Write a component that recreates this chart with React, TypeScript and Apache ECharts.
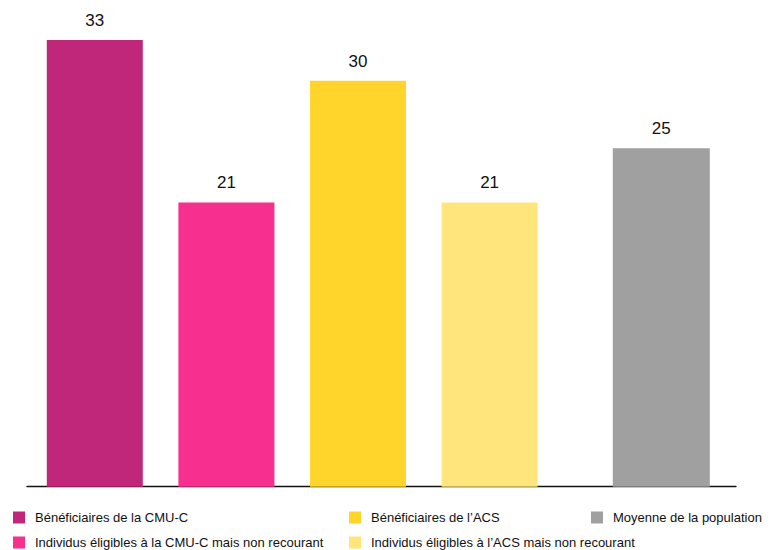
import React, { useEffect, useRef } from "react";
import * as echarts from "echarts";

const seriesNames = [
  "Bénéficiaires de la CMU-C",
  "Individus éligibles à la CMU-C mais non recourant",
  "Bénéficiaires de l’ACS",
  "Individus éligibles à l’ACS mais non recourant",
  "Moyenne de la population",
];
const values = [33, 21, 30, 21, 25];
const colors = ["#C0267A", "#F72F8E", "#FFD52C", "#FFE57C", "#A0A0A0"];
const barWidths = [96, 97, 91, 102, 97];
const groupCategories = ["CMU-C bénéficiaires", "CMU-C non recourants", "ACS bénéficiaires", "ACS non recourants"];
const avgCategories = ["Population"];

const FONT = "'Liberation Sans', sans-serif";

export default function App() {
  const ref = useRef<HTMLDivElement>(null);
  useEffect(() => {
    if (!ref.current) return;
    const chart = echarts.init(ref.current, null, { renderer: "svg" });
    const label = {
      show: true,
      position: "top",
      distance: 11,
      color: "#111",
      fontFamily: FONT,
      fontSize: 17,
    };
    const series: any[] = [];
    for (let i = 0; i < 4; i++) {
      series.push({
        name: seriesNames[i],
        type: "bar",
        xAxisIndex: 0,
        yAxisIndex: 0,
        stack: "g1",
        barWidth: barWidths[i],
        itemStyle: { color: colors[i] },
        label,
        data: groupCategories.map((_, j) => (j === i ? values[i] : "-")),
      });
    }
    series.push({
      name: seriesNames[4],
      type: "bar",
      xAxisIndex: 1,
      yAxisIndex: 1,
      barWidth: barWidths[4],
      itemStyle: { color: colors[4] },
      label,
      data: [values[4]],
    });
    const hiddenCat = {
      type: "category",
      axisLine: { show: false },
      axisTick: { show: false },
      axisLabel: { show: false },
    };
    const hiddenY = { type: "value", min: 0, max: 35, show: false, splitLine: { show: false } };
    const legendText = { fontFamily: FONT, fontSize: 13, color: "#111", lineHeight: 18, padding: [0, 0, 0, 5] };
    const legendBase = {
      orient: "vertical",
      top: 508.5,
      height: 60,
      padding: 0,
      icon: "rect",
      itemWidth: 12,
      itemHeight: 12,
      itemGap: 7,
      textStyle: legendText,
      selectedMode: false,
    };
    chart.setOption({
      animation: false,
      backgroundColor: "#fff",
      grid: [
        { left: 29, width: 526.4, top: 13, bottom: 63.3 },
        { left: 601.3, width: 120, top: 13, bottom: 63.3 },
        { left: 27, right: 36, top: 13, bottom: 63.3 },
      ],
      xAxis: [
        { ...hiddenCat, gridIndex: 0, data: groupCategories },
        { ...hiddenCat, gridIndex: 1, data: avgCategories },
        {
          type: "value",
          gridIndex: 2,
          min: 0,
          max: 1,
          axisLine: { show: true, lineStyle: { color: "#111", width: 1.3 } },
          axisTick: { show: false },
          axisLabel: { show: false },
          splitLine: { show: false },
        },
      ],
      yAxis: [
        { ...hiddenY, gridIndex: 0 },
        { ...hiddenY, gridIndex: 1 },
        { type: "value", gridIndex: 2, min: 0, max: 1, show: false, splitLine: { show: false } },
      ],
      legend: [
        { ...legendBase, left: 13, data: [seriesNames[0], seriesNames[1]] },
        { ...legendBase, left: 349, data: [seriesNames[2], seriesNames[3]] },
        { ...legendBase, left: 591, data: [seriesNames[4]] },
      ],
      series,
    });
    return () => chart.dispose();
  }, []);
  return (
    <div
      ref={ref}
      style={{ position: "fixed", left: 0, top: 0, width: 772, height: 550 }}
    />
  );
}
